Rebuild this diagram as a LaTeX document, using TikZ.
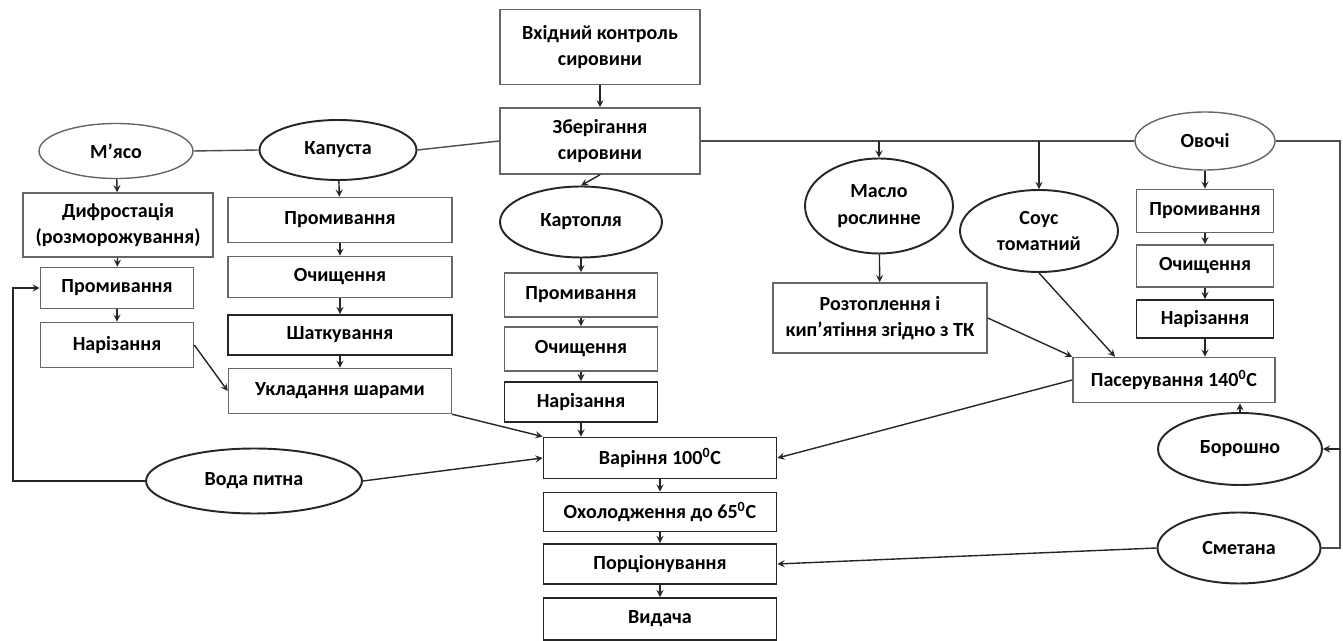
\documentclass[tikz,border=0pt]{standalone}
\usepackage{fontspec}
\setmainfont{Carlito}
\usepackage{tikz}
\usetikzlibrary{shapes.geometric, arrows}
\tikzstyle{proc} = [rectangle, minimum height=0.86cm, text centered, align=center, inner sep=0pt, draw=black!60, line width=0.9pt, font=\bfseries\fontsize{11.4}{15}\selectfont]
\tikzstyle{procb} = [proc, draw=black!85, line width=1.1pt]
\tikzstyle{syr} = [ellipse, inner sep=0pt, text centered, align=center, draw=black!85, line width=1.1pt, font=\bfseries\fontsize{11.4}{15}\selectfont]
\tikzstyle{syrl} = [syr, draw=black!60, line width=0.8pt]
\tikzstyle{arrow} = [->,>=stealth, draw=black!85, line width=0.8pt]
\tikzstyle{line} = [draw=black!70, line width=0.8pt]

\begin{document}
\begin{tikzpicture}[x=0.02cm, y=-0.02cm]
        \useasboundingbox (0,0) rectangle (1343,641);

        % centre column
        \node (vkhid) [proc, minimum width=4cm, minimum height=1.5cm] at (600,47) {Вхідний контроль\\сировини};
        \node (zberig) [proc, minimum width=4cm, minimum height=1.32cm] at (600,141) {Зберігання\\сировини};
        \node (kartoplya) [syr, minimum width=3.24cm, minimum height=1.42cm] at (581,222) {Картопля};
        \node (promyv-k) [proc, minimum width=3.06cm, minimum height=0.88cm] at (581,295) {Промивання};
        \node (ochysh-k) [proc, minimum width=3.06cm, minimum height=0.88cm] at (581,349) {Очищення};
        \node (nariz-k) [procb, minimum width=3.06cm, minimum height=0.8cm] at (581,402) {Нарізання};
        \node (varinnya) [procb, minimum width=4.66cm, minimum height=0.82cm] at (660,458) {Варіння 100\textsuperscript{0}C};
        \node (okholod) [procb, minimum width=4.66cm, minimum height=0.78cm] at (660,512) {Охолодження до 65\textsuperscript{0}C};
        \node (portsion) [procb, minimum width=4.66cm, minimum height=0.8cm] at (660,564) {Порціонування};
        \node (vydacha) [procb, minimum width=4.66cm, minimum height=0.84cm] at (660,619) {Видача};

        % meat and cabbage
        \node (myaso) [syrl, minimum width=3.08cm, minimum height=1.1cm] at (116,151) {М’ясо};
        \node (kapusta) [syr, minimum width=3.14cm, minimum height=1.2cm] at (338,150) {Капуста};
        \node (dyfrost) [proc, minimum width=3.8cm, minimum height=1.28cm] at (118,225) {Дифростація\\(розморожування)};
        \node (promyv-m) [proc, minimum width=3.06cm, minimum height=0.82cm] at (117,288) {Промивання};
        \node (nariz-m) [proc, minimum width=3.06cm, minimum height=0.9cm] at (117,345) {Нарізання};
        \node (promyv-kap) [proc, minimum width=4.48cm, minimum height=0.9cm] at (340,220) {Промивання};
        \node (ochysh-kap) [proc, minimum width=4.48cm, minimum height=0.82cm] at (340,277) {Очищення};
        \node (shatk) [procb, minimum width=4.48cm, minimum height=0.8cm] at (340,335) {Шаткування};
        \node (uklad) [proc, minimum width=4.46cm, minimum height=0.9cm] at (340,391) {Укладання шарами};
        \node (voda) [syr, minimum width=4.32cm, minimum height=1.3cm] at (254,481) {Вода питна};
        \coordinate (vodaleft) at (13,481);

        % right side
        \node (maslo) [syr, minimum width=2.96cm, minimum height=1.9cm] at (879,206) {Масло\\рослинне};
        \node (sous) [syr, minimum width=3.16cm, minimum height=1.64cm] at (1039,231) {Соус\\томатний};
        \node (ovochi) [syrl, minimum width=2.8cm, minimum height=1.16cm] at (1205,141) {Овочі};
        \node (promyv-o) [proc, minimum width=2.74cm, minimum height=0.86cm] at (1205,211) {Промивання};
        \node (ochysh-o) [proc, minimum width=2.74cm, minimum height=0.84cm] at (1205,266) {Очищення};
        \node (nariz-o) [procb, minimum width=2.74cm, minimum height=0.76cm] at (1205,319) {Нарізання};
        \node (rozt) [proc, minimum width=4.28cm, minimum height=1.4cm] at (880,318) {Розтоплення і\\кип’ятіння згідно з ТК};
        \node (paser) [proc, minimum width=4.04cm, minimum height=0.9cm] at (1174,380) {Пасерування 140\textsuperscript{0}C};
        \node (borosh) [syr, minimum width=3.28cm, minimum height=1.44cm] at (1240,449) {Борошно};
        \node (smetana) [syr, minimum width=3.26cm, minimum height=1.42cm] at (1239,548) {Сметана};
        \coordinate (ovright) at (1340,141);

        \draw [arrow] (vkhid) -- (zberig);
        \draw [arrow] (zberig.south) -- (kartoplya.north);
        \draw [arrow] (kartoplya) -- (promyv-k);
        \draw [arrow] (promyv-k) -- (ochysh-k);
        \draw [arrow] (ochysh-k) -- (nariz-k);
        \draw [arrow] (nariz-k.south) -- (nariz-k.south |- varinnya.north);
        \draw [arrow] (varinnya) -- (okholod);
        \draw [arrow] (okholod) -- (portsion);
        \draw [arrow] (portsion) -- (vydacha);

        \draw [line] (myaso.east) -- (kapusta.west);
        \draw [line] (kapusta.east) -- (zberig.west);
        \draw [arrow] (myaso) -- (dyfrost);
        \draw [arrow] (dyfrost) -- (promyv-m);
        \draw [arrow] (promyv-m) -- (nariz-m);
        \draw [arrow] (kapusta) -- (promyv-kap);
        \draw [arrow] (promyv-kap) -- (ochysh-kap);
        \draw [arrow] (ochysh-kap) -- (shatk);
        \draw [arrow] (shatk) -- (uklad);
        \draw [arrow] (nariz-m.east) -- (uklad.west);
        \draw [arrow] (uklad.south east) -- (varinnya.north west);
        \draw [arrow] (voda.east) -- (varinnya.west);
        \draw [arrow] (voda.west) -- (vodaleft) |- (promyv-m.west);

        \draw [line] (zberig.east) -- (ovochi.west);
        \draw [arrow] (maslo.north |- zberig.east) -- (maslo.north);
        \draw [arrow] (sous.north |- zberig.east) -- (sous.north);
        \draw [arrow] (maslo) -- (rozt);
        \draw [arrow] (ovochi) -- (promyv-o);
        \draw [arrow] (promyv-o) -- (ochysh-o);
        \draw [arrow] (ochysh-o) -- (nariz-o);
        \draw [arrow] (nariz-o.south) -- (nariz-o.south |- paser.north);
        \draw [arrow] (rozt.east) -- (paser.north west);
        \draw [arrow] (sous.south) -- ([xshift=-1.18cm]paser.north);
        \draw [arrow] (paser.west) -- (varinnya.east);
        \draw [arrow] (borosh.north) -- (borosh.north |- paser.south);
        \draw [line] (ovochi.east) -- (ovright) |- (smetana.east);
        \draw [arrow] (borosh.east -| ovright) -- (borosh.east);
        \draw [arrow] (smetana.west) -- (portsion.east);
    \end{tikzpicture}
\end{document}
